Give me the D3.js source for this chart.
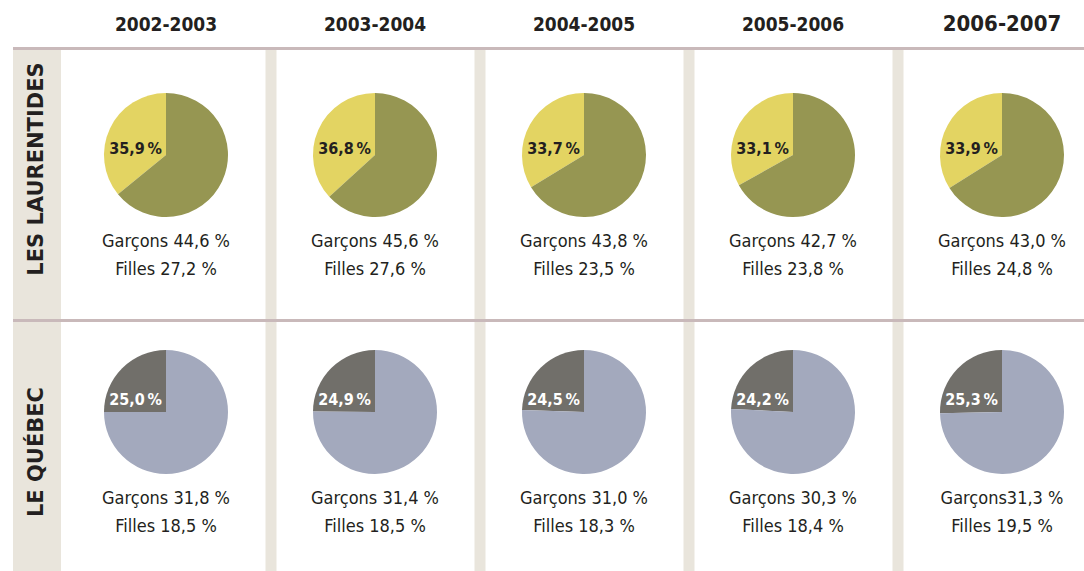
<!DOCTYPE html>
<html>
<head>
<meta charset="utf-8">
<script src="https://cdn.jsdelivr.net/npm/d3@7"></script>
<style>
  body { margin: 0; background: #fff; }
  svg { display: block; }
</style>
</head>
<body>
<div id="container"></div>
<script>
const years = ["2002-2003", "2003-2004", "2004-2005", "2005-2006", "2006-2007"];
const regions = ["LES LAURENTIDES", "LE QUÉBEC"];

// share (%) shown in the small slice
const laurentidesTotal = [35.9, 36.8, 33.7, 33.1, 33.9];
const quebecTotal = [25.0, 24.9, 24.5, 24.2, 25.3];

const laurentidesGarcons = ["44,6", "45,6", "43,8", "42,7", "43,0"];
const laurentidesFilles = ["27,2", "27,6", "23,5", "23,8", "24,8"];
const quebecGarcons = ["31,8", "31,4", "31,0", "30,3", "31,3"];
const quebecFilles = ["18,5", "18,5", "18,3", "18,4", "19,5"];

const main = (container) => {
    const width = 1084, height = 571;

    const svg = d3.select(container)
        .append("svg")
        .attr("width", width)
        .attr("height", height);

    const x = d3.scalePoint()
        .domain(years)
        .range([166, 1002]);

    const y = d3.scalePoint()
        .domain(regions)
        .range([155, 412]);

    const rows = [
        { region: regions[0], total: laurentidesTotal, garcons: laurentidesGarcons, filles: laurentidesFilles,
          small: "#e3d462", big: "#969652", label: "#231f20", labelDy: -1 },
        { region: regions[1], total: quebecTotal, garcons: quebecGarcons, filles: quebecFilles,
          small: "#716f6a", big: "#a3a9bd", label: "#ffffff", labelDy: -7 }
    ];

    const step = x.step();

    // beige strips
    svg.append("rect")
        .attr("x", 13)
        .attr("y", 48)
        .attr("width", 48)
        .attr("height", height - 48)
        .attr("fill", "#e9e5dc");

    years.slice(1).forEach(yr => {
        svg.append("rect")
            .attr("x", x(yr) - step / 2 - 5)
            .attr("y", 48)
            .attr("width", 11)
            .attr("height", height - 48)
            .attr("fill", "#e9e5dc");
    });

    // horizontal rules
    [48.5, 320.5].forEach(ly => {
        svg.append("line")
            .attr("x1", 13)
            .attr("x2", width)
            .attr("y1", ly)
            .attr("y2", ly)
            .attr("stroke", "#c9b9ba")
            .attr("stroke-width", 3);
    });

    // column headers
    svg.selectAll(".year")
        .data(years)
        .join("text")
        .attr("x", d => x(d))
        .attr("y", 31)
        .attr("text-anchor", "middle")
        .style("font-family", "'DejaVu Sans Condensed', 'DejaVu Sans'")
        .style("font-weight", "bold")
        .style("font-size", (d, i) => i === 4 ? "22px" : "19px")
        .attr("fill", "#231f20")
        .text(d => d);

    // row labels
    const labelCenters = [169, 452];
    regions.forEach((r, i) => {
        svg.append("text")
            .attr("transform", `translate(43,${labelCenters[i]}) rotate(-90)`)
            .attr("text-anchor", "middle")
            .style("font-family", "'DejaVu Sans'")
            .style("font-weight", "bold")
            .style("font-size", "21px")
            .attr("fill", "#231f20")
            .text(r);
    });

    const arc = d3.arc().innerRadius(0).outerRadius(62);

    rows.forEach(row => {
        const cy = y(row.region);
        years.forEach((yr, i) => {
            const cx = x(yr);
            const a = row.total[i] / 100 * 2 * Math.PI;
            const pie = d3.pie()
                .sort(null)
                .startAngle(-a)
                .endAngle(2 * Math.PI - a);

            const g = svg.append("g")
                .attr("transform", `translate(${cx},${cy})`);

            g.selectAll("path")
                .data(pie([row.total[i], 100 - row.total[i]]))
                .join("path")
                .attr("d", arc)
                .attr("fill", (d, j) => j === 0 ? row.small : row.big);

            g.append("text")
                .attr("x", -4)
                .attr("y", row.labelDy)
                .attr("text-anchor", "end")
                .style("font-family", "'DejaVu Sans Condensed', 'DejaVu Sans'")
                .style("font-weight", "bold")
                .style("font-size", "16px")
                .attr("fill", row.label)
                .text(d3.format(".1f")(row.total[i]).replace(".", ",") + "\u2009%");

            const sep = (row.region === regions[1] && i === 4) ? "" : " ";
            g.append("text")
                .attr("x", 0)
                .attr("y", 92)
                .attr("text-anchor", "middle")
                .style("font-family", "'DejaVu Sans Condensed', 'DejaVu Sans'")
                .style("font-size", "18px")
                .attr("fill", "#231f20")
                .text("Garçons" + sep + row.garcons[i] + " %");

            g.append("text")
                .attr("x", 0)
                .attr("y", 120)
                .attr("text-anchor", "middle")
                .style("font-family", "'DejaVu Sans Condensed', 'DejaVu Sans'")
                .style("font-size", "18px")
                .attr("fill", "#231f20")
                .text("Filles " + row.filles[i] + " %");
        });
    });
};

main(document.getElementById("container"));
</script>
</body>
</html>
